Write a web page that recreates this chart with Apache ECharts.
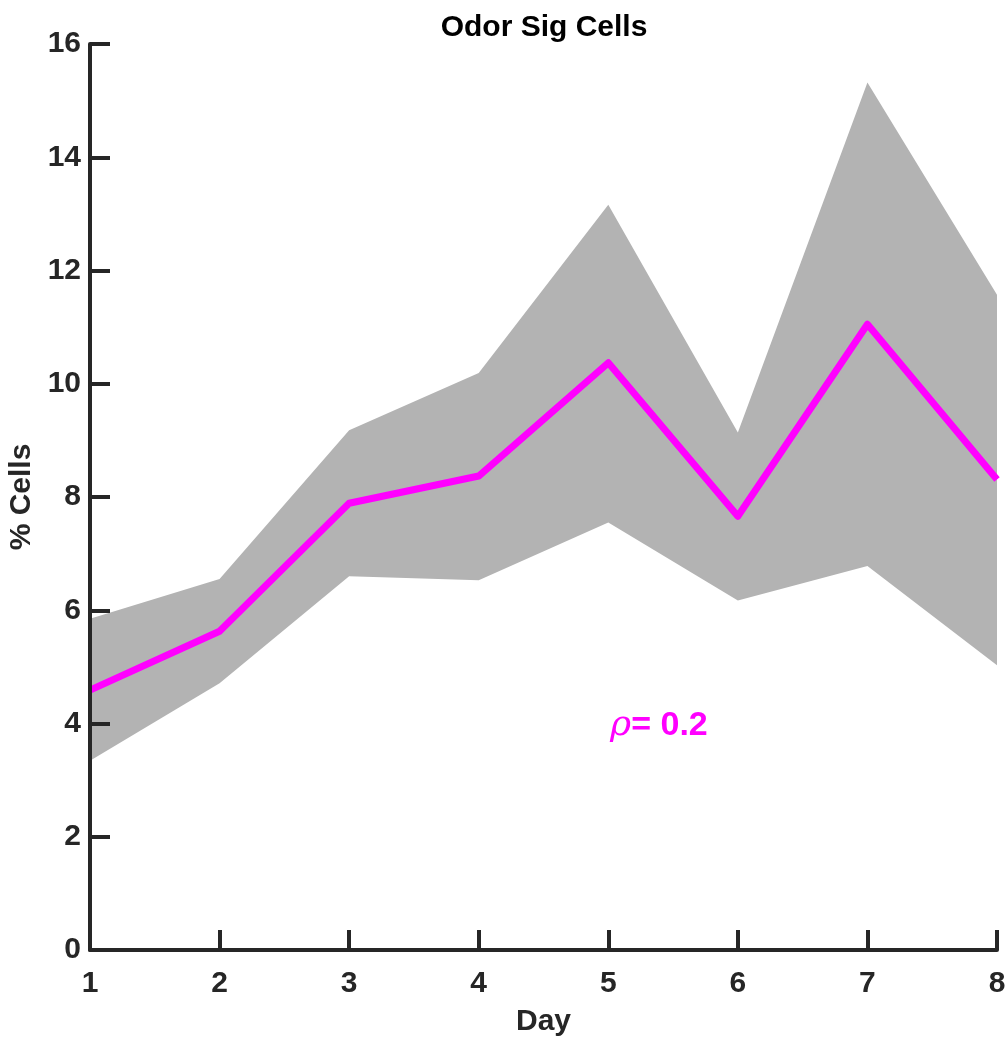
<!DOCTYPE html>
<html>
<head>
<meta charset="utf-8">
<script src="https://cdn.jsdelivr.net/npm/echarts@6/dist/echarts.min.js"></script>
<style>
  html, body { margin: 0; padding: 0; background: #fff; }
  #main { width: 1008px; height: 1040px; }
</style>
</head>
<body>
<div id="main"></div>
<script>
// data
const days = ['1', '2', '3', '4', '5', '6', '7', '8'];
const meanPct = [4.59, 5.63, 7.89, 8.37, 10.37, 7.66, 11.05, 8.31];
const upperPct = [5.85, 6.55, 9.18, 10.19, 13.16, 9.14, 15.32, 11.57];
const lowerPct = [3.34, 4.71, 6.60, 6.53, 7.55, 6.17, 6.78, 5.03];
const yTicks = [0, 2, 4, 6, 8, 10, 12, 14, 16];
const rhoText = '0.2';

const axisColor = '#262626';
const font = 'Liberation Sans, Arial, Helvetica, sans-serif';

const myChart = echarts.init(document.getElementById('main'));

const option = {
  animation: false,
  backgroundColor: '#fff',
  title: {
    text: 'Odor Sig Cells',
    left: 539,
    top: 8,
    textAlign: 'center',
    textStyle: { color: '#000', fontSize: 30, fontWeight: 'bold', fontFamily: font }
  },
  grid: { left: 90, right: 11, top: 44, bottom: 90, outerBoundsMode: 'none', containLabel: false },
  xAxis: {
    type: 'category',
    data: days,
    boundaryGap: false,
    z: 10,
    name: 'Day',
    nameLocation: 'middle',
    nameGap: 57,
    nameTextStyle: { color: axisColor, fontSize: 30, fontWeight: 'bold', fontFamily: font },
    axisLine: { show: true, lineStyle: { color: axisColor, width: 4 } },
    axisTick: { show: true, inside: true, length: 20, alignWithLabel: true, lineStyle: { color: axisColor, width: 4 } },
    axisLabel: { color: axisColor, fontSize: 30, fontWeight: 'bold', fontFamily: font, margin: 19, interval: 0 },
    splitLine: { show: false }
  },
  yAxis: {
    type: 'value',
    min: yTicks[0],
    max: yTicks[yTicks.length - 1],
    interval: 2,
    z: 10,
    name: '% Cells',
    nameLocation: 'middle',
    nameGap: 51,
    nameTextStyle: { color: axisColor, fontSize: 30, fontWeight: 'bold', fontFamily: font },
    axisLine: { show: true, lineStyle: { color: axisColor, width: 4 } },
    axisTick: { show: true, inside: true, length: 20, lineStyle: { color: axisColor, width: 4 } },
    axisLabel: { color: axisColor, fontSize: 30, fontWeight: 'bold', fontFamily: font, margin: 9 },
    splitLine: { show: false }
  },
  series: [
    {
      name: 'lower',
      type: 'line',
      stack: 'band',
      symbol: 'none',
      lineStyle: { opacity: 0 },
      data: lowerPct
    },
    {
      name: 'band',
      type: 'line',
      stack: 'band',
      symbol: 'none',
      lineStyle: { opacity: 0 },
      areaStyle: { color: '#b3b3b3', opacity: 1 },
      data: upperPct.map((u, i) => +(u - lowerPct[i]).toFixed(3))
    },
    {
      name: 'mean',
      type: 'line',
      symbol: 'none',
      lineStyle: { color: '#ff00ff', width: 7, join: 'round' },
      data: meanPct
    }
  ],
  graphic: [
    {
      type: 'text',
      left: 610,
      top: 708,
      z: 20,
      style: {
        text: '{r|ρ}{b|= ' + rhoText + '}',
        rich: {
          r: { fill: '#ff00ff', fontSize: 36, fontStyle: 'italic', fontFamily: 'DejaVu Serif, serif' },
          b: { fill: '#ff00ff', fontSize: 34, fontWeight: 'bold', fontFamily: font }
        }
      }
    }
  ]
};

myChart.setOption(option);
</script>
</body>
</html>
